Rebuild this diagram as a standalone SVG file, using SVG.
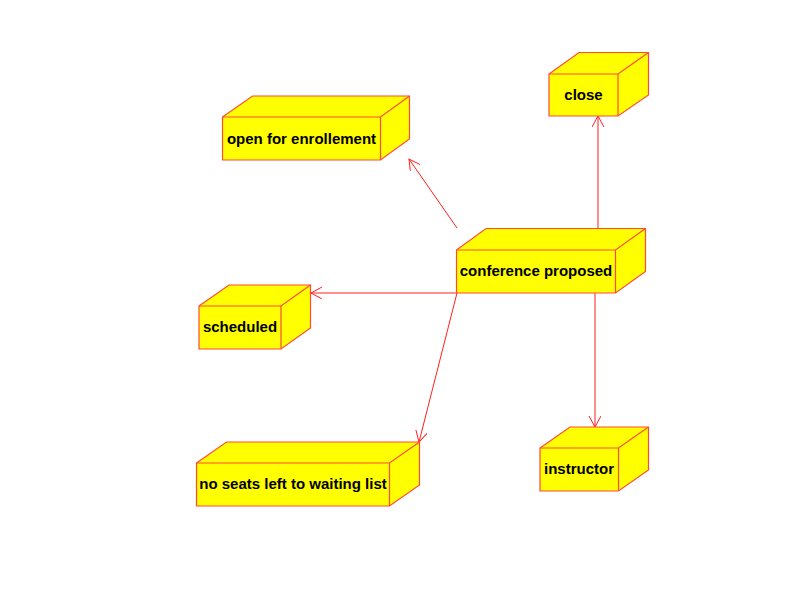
<svg xmlns="http://www.w3.org/2000/svg" width="804" height="595" viewBox="0 0 804 595">
<style>
.box{fill:#ffff00;stroke:#ff4a3a;stroke-width:1.2;stroke-linejoin:miter}
.ln{fill:none;stroke:#ff4a3a;stroke-width:1.2}
.lbl{font-family:"Liberation Sans",Arial,sans-serif;font-weight:bold;font-size:15px;fill:#000;text-anchor:middle}
.edge{stroke:#ff2020;stroke-width:1;fill:none}
</style>
<defs>
<marker id="arr" markerWidth="14" markerHeight="14" refX="11" refY="6" orient="auto" markerUnits="userSpaceOnUse">
<path d="M0,0 L11,6 L0,12" fill="none" stroke="#ff2020" stroke-width="1"/>
</marker>
</defs>
<rect width="804" height="595" fill="#fff"/>
<g id="connectors">
<line class="edge" x1="457" y1="228" x2="409" y2="159" marker-end="url(#arr)"/>
<line class="edge" x1="598" y1="228" x2="598" y2="116" marker-end="url(#arr)"/>
<line class="edge" x1="457" y1="293" x2="311" y2="293" marker-end="url(#arr)"/>
<line class="edge" x1="457" y1="293" x2="419" y2="442" marker-end="url(#arr)"/>
<line class="edge" x1="595" y1="293" x2="595" y2="427" marker-end="url(#arr)"/>
</g>
<g id="open">
<path class="box" d="M222.5,117 L252.5,96 L409.5,96 L409.5,139 L380.5,160 L222.5,160 Z"/>
<path class="ln" d="M222.5,117 L380.5,117 L409.5,96 M380.5,117 L380.5,160"/>
<text class="lbl" x="301.5" y="143.5">open for enrollement</text>
</g>
<g id="close">
<path class="box" d="M549,74 L579,52.5 L648.5,52.5 L648.5,95 L618,116 L549,116 Z"/>
<path class="ln" d="M549,74 L618,74 L648.5,52.5 M618,74 L618,116"/>
<text class="lbl" x="583.5" y="100">close</text>
</g>
<g id="conference">
<path class="box" d="M456.5,250 L486,228.5 L645.5,228.5 L645.5,271.5 L615.5,293 L456.5,293 Z"/>
<path class="ln" d="M456.5,250 L615.5,250 L645.5,228.5 M615.5,250 L615.5,293"/>
<text class="lbl" x="536" y="276">conference proposed</text>
</g>
<g id="scheduled">
<path class="box" d="M199,306 L229,285 L310.5,285 L310.5,328 L281,349 L199,349 Z"/>
<path class="ln" d="M199,306 L281,306 L310.5,285 M281,306 L281,349"/>
<text class="lbl" x="240" y="332">scheduled</text>
</g>
<g id="noseats">
<path class="box" d="M196.5,463 L226.5,442 L419.5,442 L419.5,485 L389.5,506 L196.5,506 Z"/>
<path class="ln" d="M196.5,463 L389.5,463 L419.5,442 M389.5,463 L389.5,506"/>
<text class="lbl" x="293" y="488.5">no seats left to waiting list</text>
</g>
<g id="instructor">
<path class="box" d="M540,448 L570,427 L648.5,427 L648.5,470 L618.5,491 L540,491 Z"/>
<path class="ln" d="M540,448 L618.5,448 L648.5,427 M618.5,448 L618.5,491"/>
<text class="lbl" x="579" y="473.5">instructor</text>
</g>
</svg>
